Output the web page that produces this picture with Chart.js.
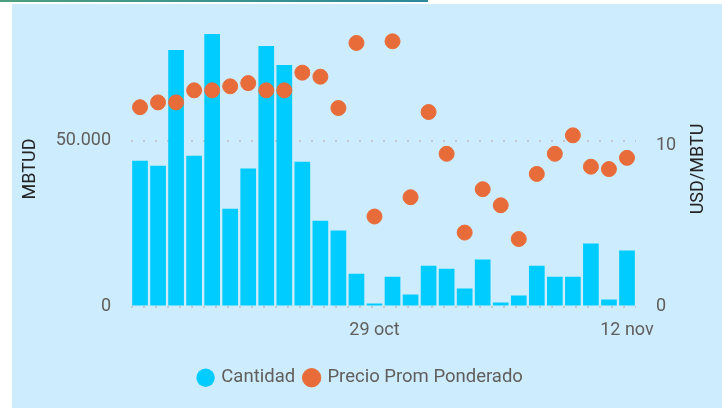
<!DOCTYPE html>
<html>
<head>
<meta charset="utf-8">
<script src="https://cdn.jsdelivr.net/npm/chart.js@4.4.1/dist/chart.umd.min.js"></script>
<style>
  html, body { margin: 0; padding: 0; background: #fff; }
  #wrap { position: relative; width: 722px; height: 408px; overflow: hidden; }
  #topline { position: absolute; left: 0; top: 0; width: 428px; height: 2px; background: linear-gradient(90deg, #4c9f7f, #2b8a9b); }
  #panel { position: absolute; left: 12px; top: 4px; right: 0; bottom: 0; background: #cdecfd; }
  #chart { position: absolute; left: 0; top: 0; }
</style>
</head>
<body>
<div id="wrap">
  <div id="topline"></div>
  <div id="panel"></div>
  <canvas id="chart" width="722" height="408"></canvas>
</div>
<script>
const days = ['16 oct','17 oct','18 oct','19 oct','20 oct','21 oct','22 oct','23 oct','24 oct','25 oct','26 oct','27 oct','28 oct','29 oct',
  '30 oct','31 oct','1 nov','2 nov','3 nov','4 nov','5 nov','6 nov','7 nov','8 nov','9 nov','10 nov','11 nov','12 nov'];
const tickLabels = ['29 oct', '12 nov'];
const cantidad = [44000, 42500, 77400, 45500, 82200, 29500, 41600, 78600, 72900, 43700, 25900, 22900, 9900, 900,
  9000, 3600, 12300, 11400, 5400, 14200, 1200, 3300, 12300, 9000, 9000, 19000, 2100, 16900];
const precio = [12.4, 12.7, 12.7, 13.45, 13.45, 13.7, 13.9, 13.45, 13.45, 14.55, 14.3, 12.35, 16.4, 5.6,
  16.5, 6.8, 12.1, 9.5, 4.6, 7.3, 6.3, 4.2, 8.25, 9.5, 10.65, 8.7, 8.55, 9.25];
const leftTicks = [0, 50000];
const rightTicks = [0, 10];

const FONT = 'Roboto, "Noto Sans", sans-serif';
const fmt = v => v.toLocaleString('de-DE');

// axis titles are drawn by hand so the right one reads bottom-to-top like the left one
const axisTitles = {
  id: 'axisTitles',
  afterDraw(chart) {
    const ctx = chart.ctx;
    ctx.save();
    ctx.fillStyle = '#252423';
    ctx.font = '18px ' + FONT;
    ctx.textAlign = 'center';
    ctx.textBaseline = 'middle';
    [['MBTUD', 30], ['USD/MBTU', 698]].forEach(([t, x]) => {
      ctx.save();
      ctx.translate(x, 169);
      ctx.rotate(-Math.PI / 2);
      ctx.fillText(t, 0, 0);
      ctx.restore();
    });
    ctx.restore();
  }
};

const noPad = s => { s.paddingTop = 0; s.paddingBottom = 0; };

new Chart(document.getElementById('chart'), {
  data: {
    labels: days,
    datasets: [
      { type: 'scatter', label: 'Precio Prom Ponderado', data: precio, yAxisID: 'y1', backgroundColor: '#e86c3a', borderColor: '#e86c3a', pointRadius: 7.5, pointHoverRadius: 7.5, order: 0 },
      { type: 'bar', label: 'Cantidad', data: cantidad, yAxisID: 'y', backgroundColor: '#00ccff', categoryPercentage: 1, barPercentage: 0.87, order: 1 }
    ]
  },
  options: {
    responsive: false,
    devicePixelRatio: 1,
    animation: false,
    layout: { padding: { top: 14, bottom: 11, left: 0, right: 0 } },
    plugins: {
      tooltip: { enabled: false },
      legend: {
        position: 'bottom',
        reverse: true,
        labels: { usePointStyle: true, pointStyle: 'circle', boxHeight: 13, boxWidth: 13, padding: 10, color: '#605e5c', font: { family: FONT, size: 18.5 } }
      }
    },
    scales: {
      x: {
        type: 'category',
        offset: true,
        grid: { display: false },
        border: { display: false },
        ticks: {
          autoSkip: false, maxRotation: 0, padding: 5, color: '#605e5c', font: { family: FONT, size: 18 },
          callback: function (v) { const l = this.getLabelForValue(v); return tickLabels.includes(l) ? l : ''; }
        },
        afterFit: s => { s.height = 52; }
      },
      y: {
        position: 'left',
        min: 0, max: 88250,
        border: { display: false, dash: [2, 10] },
        grid: { color: '#c4c8cc', lineWidth: 2, drawTicks: false },
        ticks: { padding: 20, color: '#605e5c', font: { family: FONT, size: 18 }, callback: v => fmt(v) },
        afterBuildTicks: s => { s.ticks = leftTicks.map(v => ({ value: v })); },
        afterFit: s => { s.width = 131; noPad(s); }
      },
      y1: {
        position: 'right',
        min: 0, max: 18.2,
        border: { display: false },
        grid: { display: false, drawTicks: false },
        ticks: { padding: 20, color: '#605e5c', font: { family: FONT, size: 18 } },
        afterBuildTicks: s => { s.ticks = rightTicks.map(v => ({ value: v })); },
        afterFit: s => { s.width = 86; noPad(s); }
      }
    }
  },
  plugins: [axisTitles]
});
</script>
</body>
</html>
